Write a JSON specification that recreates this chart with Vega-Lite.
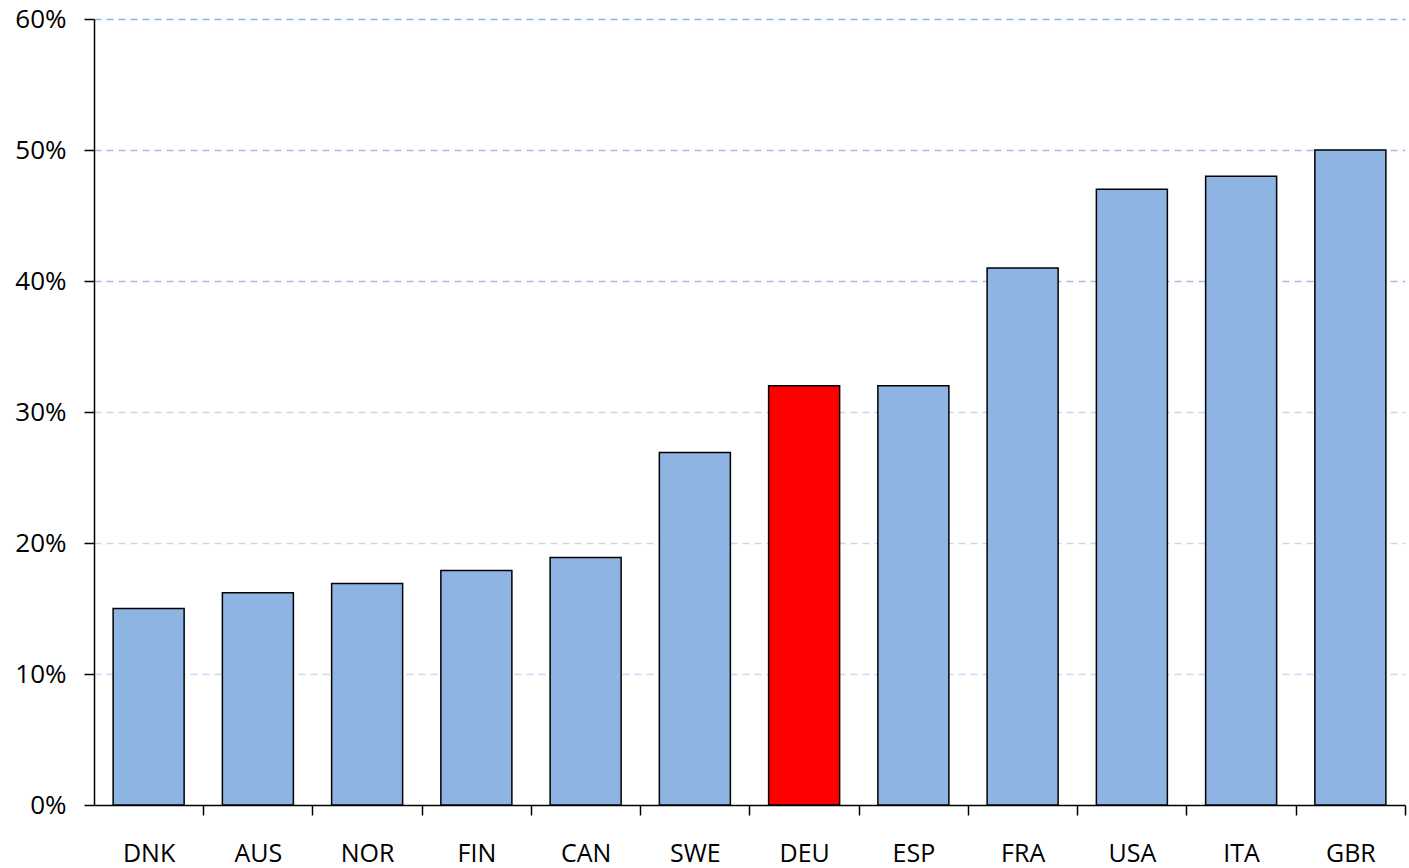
{
  "$schema": "https://vega.github.io/schema/vega-lite/v6.json",
  "width": 1311,
  "height": 786,
  "autosize": {"type": "none"},
  "padding": {"left": 94, "top": 19, "right": 4, "bottom": 63},
  "background": "white",
  "config": {"view": {"stroke": null}, "font": "Open Sans"},
  "data": {
    "values": [
      {"country": "DNK", "share": 0.150, "group": "other"},
      {"country": "AUS", "share": 0.162, "group": "other"},
      {"country": "NOR", "share": 0.169, "group": "other"},
      {"country": "FIN", "share": 0.179, "group": "other"},
      {"country": "CAN", "share": 0.189, "group": "other"},
      {"country": "SWE", "share": 0.269, "group": "other"},
      {"country": "DEU", "share": 0.320, "group": "highlight"},
      {"country": "ESP", "share": 0.320, "group": "other"},
      {"country": "FRA", "share": 0.410, "group": "other"},
      {"country": "USA", "share": 0.470, "group": "other"},
      {"country": "ITA", "share": 0.480, "group": "other"},
      {"country": "GBR", "share": 0.500, "group": "other"}
    ]
  },
  "mark": {"type": "bar", "stroke": "black", "strokeWidth": 1.5},
  "encoding": {
    "x": {
      "field": "country",
      "type": "nominal",
      "sort": null,
      "title": null,
      "scale": {"paddingInner": 0.35, "paddingOuter": 0.175},
      "axis": {
        "labelAngle": 0,
        "labelFontSize": 25,
        "labelColor": "black",
        "labelPadding": 26,
        "tickSize": 10,
        "tickColor": "black",
        "tickWidth": 1.5,
        "tickOffset": 54.6,
        "labelOffset": -54.6,
        "domainColor": "black",
        "domainWidth": 1.5,
        "grid": false
      }
    },
    "y": {
      "field": "share",
      "type": "quantitative",
      "title": null,
      "scale": {"domain": [0, 0.6], "nice": false},
      "axis": {
        "values": [0, 0.1, 0.2, 0.3, 0.4, 0.5, 0.6],
        "format": ".0%",
        "labelFontSize": 26,
        "labelColor": "black",
        "labelPadding": 18,
        "tickSize": 10,
        "tickColor": "black",
        "tickWidth": 1.5,
        "domainColor": "black",
        "domainWidth": 1.5,
        "grid": true,
        "gridDash": [7, 5],
        "gridWidth": 1.5,
        "gridColor": {"expr": "datum.value >= 0.55 ? '#8fb0e6' : (datum.value >= 0.35 ? '#a9bde2' : '#cbd7ee')"},
        "gridOpacity": {"expr": "datum.value == 0 ? 0 : 1"}
      }
    },
    "color": {
      "field": "group",
      "type": "nominal",
      "scale": {"domain": ["other", "highlight"], "range": ["#8eb4e3", "#ff0000"]},
      "legend": null
    }
  }
}
